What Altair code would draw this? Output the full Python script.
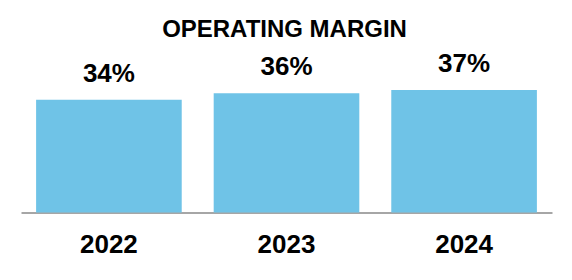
import altair as alt
import pandas as pd

years = ["2022", "2023", "2024"]
margins = [34, 36, 37]
labels = ["34%", "36%", "37%"]
title_text = ["OPERATING MARGIN"]

df = pd.DataFrame({"year": years, "margin": margins, "label": labels})
tdf = pd.DataFrame({"t": title_text})

x = alt.X("year:N", sort=years, title=None,
          scale=alt.Scale(paddingInner=0.18, paddingOuter=0.085),
          axis=alt.Axis(labelAngle=0, ticks=False, domain=True, domainColor="#A6A6A6",
                        domainWidth=2, labelFont="Liberation Sans", labelFontWeight="bold",
                        labelFontSize=26, labelColor="#000000", labelPadding=19,
                        labelBaseline="top", grid=False))
y = alt.Y("margin:Q", scale=alt.Scale(domain=[0, 40]), axis=None)

bars = alt.Chart(df).mark_bar(color="#6FC3E7").encode(x=x, y=y)
text = alt.Chart(df).mark_text(dy=-18, baseline="alphabetic", font="Liberation Sans",
                               fontWeight="bold", fontSize=26, color="#000000").encode(
    x=alt.X("year:N", sort=years), y="margin:Q", text="label:N")
title = alt.Chart(tdf).mark_text(baseline="alphabetic", align="center", font="Liberation Sans",
                                 fontWeight="bold", fontSize=24, color="#000000").encode(
    x=alt.value(263.5), y=alt.value(-43), text="t:N")

chart = (bars + text + title).properties(
    width=531, height=132.4,
    autosize=alt.AutoSizeParams(type="none"),
    padding={"left": 21, "top": 80, "right": 20, "bottom": 68},
).configure_view(stroke=None)

chart.save("out.html", embed_options={"renderer": "svg", "actions": False})
